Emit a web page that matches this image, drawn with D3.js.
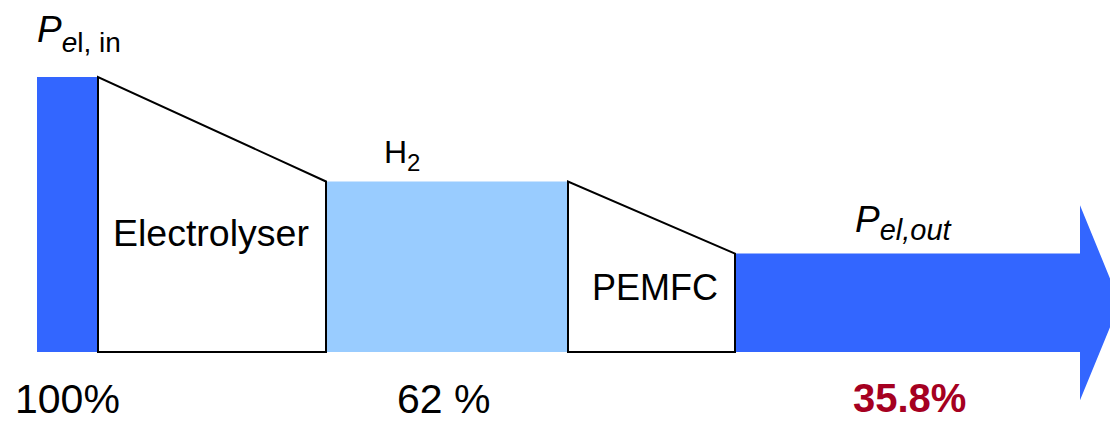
<!DOCTYPE html>
<html>
<head>
<meta charset="utf-8">
<script src="https://cdn.jsdelivr.net/npm/d3@7"></script>
<style>
  body { margin: 0; background: #fff; }
  svg { display: block; font-family: Arial, "Liberation Sans", sans-serif; }
</style>
</head>
<body>
<div id="chart"></div>
<script>

// energy flow data (percent of electrical input)

var flows = [ "Pel,in", "H2", "Pel,out" ];
var flow_values = [ 100, 62, 35.8 ];
var flow_labels = [ "100%", "62 %", "35.8%" ];

var converters = [ "Electrolyser", "PEMFC" ];


WIDTH = 1110;
HEIGHT = 422;

BASE = 352;

BLUE = "#3366ff";
LIGHT_BLUE = "#99ccff";
RED = "#a50021";


// horizontal layout: edges of each stage, left to right
var stage_keys = [ "in0", "in1", "el1", "h21", "fc1", "out1", "tip" ];
var x = d3.scaleOrdinal()
    .domain(stage_keys)
    .range([ 37, 98, 326, 568, 735, 1080, 1120 ]);

// flow height in px per percent
var h = d3.scaleLinear().domain([0, 100]).range([0, 275]);

function top_of(v) { return BASE - h(v); }


var svg = d3.select("#chart").append("svg")
    .attr("width", WIDTH)
    .attr("height", HEIGHT);


// input bar
svg.append("rect")
    .attr("x", x("in0"))
    .attr("y", top_of(flow_values[0]))
    .attr("width", x("in1") - x("in0"))
    .attr("height", h(flow_values[0]))
    .attr("fill", BLUE);

// hydrogen
svg.append("rect")
    .attr("x", x("el1"))
    .attr("y", top_of(flow_values[1]))
    .attr("width", x("h21") - x("el1"))
    .attr("height", h(flow_values[1]))
    .attr("fill", LIGHT_BLUE);

// output arrow
var mid = BASE - h(flow_values[2]) / 2;
var head = 97.5;
var arrow = [
    [x("fc1"), top_of(flow_values[2])],
    [x("out1"), top_of(flow_values[2])],
    [x("out1"), mid - head],
    [x("tip"), mid],
    [x("out1"), mid + head],
    [x("out1"), BASE],
    [x("fc1"), BASE]
];
svg.append("path")
    .attr("d", "M" + arrow.join("L") + "Z")
    .attr("fill", BLUE);


// converters as trapezoids
var conv = [
    { name: converters[0], x0: x("in1"), x1: x("el1"), v0: flow_values[0], v1: flow_values[1], tx: 113, ty: 246, size: 37.5 },
    { name: converters[1], x0: x("h21"), x1: x("fc1"), v0: flow_values[1], v1: flow_values[2], tx: 592, ty: 300, size: 36 }
];

svg.selectAll("path.conv")
    .data(conv).enter()
    .append("path")
    .attr("class", "conv")
    .attr("d", function(d) {
        return "M" + [[d.x0, BASE], [d.x0, top_of(d.v0)], [d.x1, top_of(d.v1)], [d.x1, BASE]].join("L") + "Z";
    })
    .attr("fill", "white")
    .attr("stroke", "black")
    .attr("stroke-width", 2)
    .attr("stroke-linejoin", "miter");

svg.selectAll("text.conv")
    .data(conv).enter()
    .append("text")
    .attr("class", "conv")
    .attr("x", function(d) { return d.tx })
    .attr("y", function(d) { return d.ty })
    .attr("font-size", function(d) { return d.size })
    .text(function(d) { return d.name });


// P_el,in
var pin = svg.append("text").attr("x", 37).attr("y", 42).attr("font-size", 37);
pin.append("tspan").attr("font-style", "italic").text("P");
pin.append("tspan").attr("font-size", 28).attr("dy", 10).attr("font-style", "italic").text("e");
pin.append("tspan").attr("font-size", 28).text("l, in");

// P_el,out
var pout = svg.append("text").attr("x", 855).attr("y", 232).attr("font-size", 37)
    .attr("font-style", "italic");
pout.append("tspan").text("P");
pout.append("tspan").attr("font-size", 29).attr("dy", 8).text("el,out");

// H2
var h2 = svg.append("text").attr("x", 384).attr("y", 163).attr("font-size", 32);
h2.append("tspan").text("H");
h2.append("tspan").attr("font-size", 24).attr("dy", 8).text("2");


// percentage labels under each flow
var label_pos = [
    { x: 15, y: 413, bold: false, fill: "black", size: 41 },
    { x: 397, y: 413, bold: false, fill: "black", size: 41 },
    { x: 853, y: 412, bold: true, fill: RED, size: 40 }
];

svg.selectAll("text.pct")
    .data(flow_labels).enter()
    .append("text")
    .attr("class", "pct")
    .attr("x", function(d, i) { return label_pos[i].x })
    .attr("y", function(d, i) { return label_pos[i].y })
    .attr("font-size", function(d, i) { return label_pos[i].size })
    .attr("font-weight", function(d, i) { return label_pos[i].bold ? "bold" : "normal" })
    .attr("fill", function(d, i) { return label_pos[i].fill })
    .text(function(d) { return d });

</script>
</body>
</html>
